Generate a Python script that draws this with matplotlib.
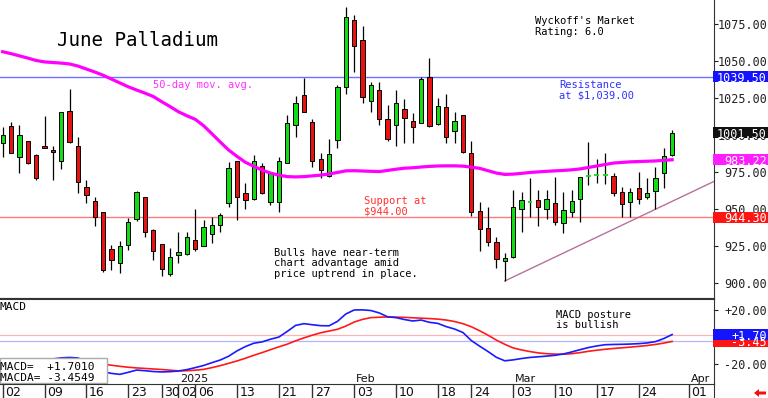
import numpy as np
import pandas as pd
import matplotlib
matplotlib.use('Agg')
import matplotlib.pyplot as plt
from matplotlib.patches import Rectangle, Polygon
from matplotlib.transforms import blended_transform_factory

# ---- data ----
holidays = ['2024-12-25', '2025-01-01', '2025-01-20', '2025-02-17']
dates = pd.bdate_range('2024-12-02', '2025-04-04', freq='C', holidays=holidays)

opens = np.array([994.8, 1006.0, 984.9, 995.9, 986.2, 992.5, 989.8, 982.4, 1016.2, 992.5,
                  964.6, 955.3, 947.7, 922.8, 913.2, 925.5, 943.1, 957.8, 935.9, 926.2,
                  905.9, 919.0, 919.2, 928.9, 925.1, 933.0, 939.1, 953.7, 982.4, 960.5,
                  956.5, 979.0, 954.6, 954.8, 981.2, 1006.7, 1027.0, 1009.0, 983.5, 972.2,
                  996.6, 1032.6, 1077.8, 1064.2, 1023.2, 1030.4, 1011.0, 1006.7, 1017.6, 1009.4,
                  1008.3, 1039.4, 1007.4, 1019.1, 1002.7, 1013.5, 987.6, 948.5, 937.2, 927.4,
                  914.9, 917.2, 949.9, 954.8, 956.0, 949.9, 953.7, 940.2, 948.1, 956.5,
                  972.4, 972.9, 972.9, 972.2, 961.6, 954.4, 963.9, 957.8, 962.3, 974.0,
                  986.4])
highs = np.array([1005.6, 1009.0, 1006.7, 996.2, 986.9, 1012.8, 992.7, 1015.8, 1031.3, 998.8,
                  969.5, 957.8, 948.2, 925.5, 928.4, 943.6, 962.0, 958.2, 936.2, 926.5,
                  923.3, 934.1, 934.1, 950.1, 942.4, 944.7, 947.0, 981.5, 982.6, 967.7,
                  986.4, 980.8, 975.0, 985.3, 1013.5, 1026.5, 1038.7, 1010.6, 988.0, 997.1,
                  1033.8, 1086.4, 1081.2, 1073.7, 1036.0, 1036.0, 1020.3, 1030.4, 1024.1, 1014.6,
                  1039.0, 1051.9, 1025.2, 1027.5, 1015.7, 1013.8, 996.1, 954.8, 951.0, 930.7,
                  920.3, 962.7, 961.6, 970.7, 962.7, 962.7, 971.7, 961.6, 962.7, 971.5,
                  995.0, 983.5, 987.6, 974.0, 965.0, 963.9, 975.1, 970.7, 978.5, 991.0,
                  1003.3])
lows = np.array([984.9, 987.6, 974.0, 980.5, 969.5, 990.9, 969.5, 976.8, 994.7, 960.5,
                 953.7, 938.6, 907.5, 908.6, 906.4, 922.1, 942.0, 931.1, 915.4, 904.6,
                 904.6, 913.2, 918.8, 921.7, 924.8, 926.7, 934.5, 951.0, 942.4, 949.7,
                 956.3, 960.0, 952.6, 947.7, 980.8, 998.8, 1015.5, 978.5, 970.7, 971.3,
                 991.0, 1027.7, 1042.8, 1021.4, 1015.3, 1006.7, 996.1, 992.5, 994.7, 994.7,
                 1007.9, 1005.6, 1006.7, 994.7, 994.7, 988.0, 945.2, 921.7, 925.1, 909.8,
                 901.2, 916.9, 934.1, 944.7, 938.6, 943.1, 939.1, 933.9, 944.7, 941.3,
                 966.1, 967.7, 966.6, 958.9, 944.3, 944.7, 953.3, 956.7, 949.7, 963.9,
                 986.0])
closes = np.array([1000.0, 988.0, 999.8, 981.2, 971.1, 991.2, 988.5, 1015.5, 995.4, 968.2,
                   959.4, 944.7, 908.6, 915.4, 925.1, 941.1, 961.6, 934.1, 921.7, 909.5,
                   917.2, 920.6, 931.1, 922.6, 937.5, 938.9, 945.8, 977.4, 958.2, 956.0,
                   982.2, 960.5, 974.0, 982.4, 1007.9, 1021.8, 1015.7, 982.4, 976.3, 986.9,
                   1032.2, 1080.0, 1060.2, 1025.5, 1033.8, 1010.6, 997.1, 1021.8, 1011.3, 1005.6,
                   1037.6, 1006.0, 1019.8, 998.4, 1009.4, 988.3, 947.7, 936.2, 927.4, 915.9,
                   916.5, 951.4, 956.0, 954.8, 951.0, 956.7, 940.9, 949.2, 955.3, 971.3,
                   972.4, 972.9, 972.9, 960.9, 953.3, 961.6, 956.5, 960.5, 970.7, 985.8,
                   1001.5])
ma50 = np.array([1056.3, 1055.0, 1053.5, 1052.0, 1050.4, 1049.4, 1049.0, 1048.6, 1048.0, 1046.6,
                 1044.6, 1042.6, 1040.4, 1037.8, 1035.2, 1032.6, 1030.4, 1028.3, 1026.0, 1022.5,
                 1019.2, 1015.7, 1013.0, 1010.6, 1006.3, 1000.8, 995.2, 989.8, 985.5, 981.5,
                 978.8, 976.2, 974.2, 972.8, 971.8, 971.6, 971.8, 972.3, 972.8, 973.6,
                 974.6, 975.7, 975.8, 975.6, 975.4, 975.2, 976.0, 976.8, 977.5, 977.8,
                 978.3, 978.7, 979.0, 979.1, 979.1, 978.9, 978.2, 977.4, 975.8, 974.2,
                 973.3, 973.5, 974.0, 974.6, 975.0, 975.4, 975.7, 976.0, 976.4, 977.0,
                 978.0, 979.0, 980.0, 981.0, 981.4, 981.8, 982.0, 982.2, 982.4, 982.8,
                 983.22])
macd = np.array([-18.0, -17.6, -17.8, -17.4, -17.6, -17.0, -16.5, -15.7, -15.4, -15.8,
                 -18.5, -22.5, -26.0, -27.3, -28.0, -26.5, -24.8, -25.3, -25.9, -26.2,
                 -26.0, -25.5, -24.5, -23.0, -21.4, -19.3, -17.3, -14.5, -10.5, -7.3,
                 -4.8, -3.8, -1.8, -0.2, 4.0, 8.5, 9.8, 9.0, 8.3, 8.2,
                 11.5, 17.0, 20.0, 20.1, 19.6, 17.8, 14.9, 14.3, 12.9, 11.8,
                 12.5, 10.8, 10.0, 7.6, 5.8, 3.2, -2.8, -7.0, -11.0, -15.3,
                 -17.9, -17.2, -16.2, -15.4, -14.9, -14.4, -13.8, -12.8, -11.3, -9.6,
                 -8.0, -6.8, -5.9, -5.7, -5.6, -5.4, -5.1, -4.6, -3.6, -1.3,
                 1.70])
macda = np.array([-21.0, -20.6, -20.2, -19.8, -19.4, -19.1, -18.8, -18.4, -18.1, -17.9,
                  -18.2, -19.1, -20.3, -21.2, -22.0, -22.7, -23.2, -23.6, -24.0, -24.4,
                  -24.9, -25.4, -25.3, -24.9, -24.3, -23.0, -21.5, -19.8, -18.0, -16.0,
                  -13.8, -11.8, -9.6, -7.5, -5.5, -3.0, -0.8, 1.2, 3.0, 4.3,
                  5.6, 8.0, 11.0, 13.0, 14.3, 14.6, 14.8, 14.7, 14.5, 14.2,
                  13.9, 13.6, 13.2, 12.5, 11.4, 9.8, 7.5, 4.5, 1.2, -2.5,
                  -5.6, -8.3, -9.8, -11.0, -12.0, -12.6, -12.9, -13.0, -12.6, -11.8,
                  -10.8, -10.0, -9.3, -8.7, -8.2, -7.7, -7.1, -6.5, -5.7, -4.7,
                  -3.45])
macd_text = '+1.7010'
macda_text = '-3.4549'

support = 944.30
resistance = 1039.50
trend_anchors = [60, 78]   # candles whose lows the trendline joins

week_ticks = ['2024-12-02', '2024-12-09', '2024-12-16', '2024-12-23', '2024-12-30',
              '2025-01-02', '2025-01-06', '2025-01-13', '2025-01-21', '2025-01-27',
              '2025-02-03', '2025-02-10', '2025-02-18', '2025-02-24', '2025-03-03',
              '2025-03-10', '2025-03-17', '2025-03-24', '2025-04-01']
month_ticks = {'2025-01-02': '2025', '2025-02-03': 'Feb', '2025-03-03': 'Mar', '2025-04-01': 'Apr'}
price_ticks = [900, 925, 950, 975, 1000, 1025, 1050, 1075]
macd_ticks = [-20, 20]

# ---- styling ----
GREEN = '#14dc14'
RED = '#e81212'
MONO = 'DejaVu Sans Mono'
plt.rcParams['font.family'] = MONO

W, H = 768, 398


def fx(px):
    return px / W


def fy(py):
    return 1 - py / H


fig = plt.figure(figsize=(W / 100, H / 100), dpi=100)
ax = fig.add_axes([0, fy(299), fx(714), 299 / H])
axm = fig.add_axes([0, fy(384), fx(714), 85 / H])
axd = fig.add_axes([0, 0, fx(714), 14 / H])

x = np.arange(len(opens))
XLIM = (-0.32, 85.0)

# candles
up = closes > opens
down = closes < opens
doji = closes == opens
ax.vlines(x, lows, highs, color='black', lw=0.9, zorder=2)
ax.bar(x[up], (closes - opens)[up], bottom=opens[up], width=0.52,
       color=GREEN, edgecolor='black', linewidth=0.7, zorder=3)
ax.bar(x[down], (opens - closes)[down], bottom=closes[down], width=0.52,
       color=RED, edgecolor='black', linewidth=0.7, zorder=3)
ax.hlines(closes[doji], x[doji] - 0.28, x[doji] + 0.28, color=GREEN, lw=1.3, zorder=3)

ax.plot(x, ma50, color='#ff00ff', lw=2.3, zorder=4)
ax.axhline(support, color='#ff7a7a', lw=1, zorder=1)
ax.axhline(resistance, color='#7070ff', lw=1, zorder=1)

t0, t1 = trend_anchors
slope = (lows[t1] - lows[t0]) / (t1 - t0)
tx = np.array([t0, XLIM[1]])
ax.plot(tx, lows[t0] + slope * (tx - t0), color='#b8709a', lw=1, zorder=1.5)

# MACD panel
axm.axhline(macd[-1], color='#ffb4b4', lw=0.9, zorder=1)
axm.axhline(macda[-1], color='#b4b4ff', lw=0.9, zorder=1)
axm.plot(x, macda, color='#ff1a1a', lw=1.2, zorder=3)
axm.plot(x, macd, color='#1a1aff', lw=1.2, zorder=3)
axm.add_patch(Rectangle((0, 0.015), 0.15, 0.294, transform=axm.transAxes,
                        facecolor='white', edgecolor='#aaaaaa', lw=1, zorder=8))


def right_axis(a, ticks, labels):
    a.yaxis.tick_right()
    a.set_yticks(ticks)
    a.set_yticklabels(labels)
    a.tick_params(axis='y', direction='out', length=3, width=0.8, pad=35.2,
                  labelsize=8.5, colors='#222222')
    plt.setp(a.get_yticklabels(), ha='right')


def tag(a, val, text, color, h):
    tr = blended_transform_factory(a.transAxes, a.transData)
    a.add_patch(Rectangle((0.9986, val - h / 2), 0.09, h, transform=tr, facecolor=color,
                          edgecolor='none', clip_on=False, zorder=10))
    a.text(767 / 714, val, text, transform=tr, ha='right', va='center_baseline',
           color='white', fontsize=8.5, clip_on=False, zorder=11)


right_axis(ax, price_ticks, [f'{v:.2f}' for v in price_ticks])
right_axis(axm, macd_ticks, [f'{v:+.2f}' for v in macd_ticks])

tag(ax, resistance, f'{resistance:.2f}', '#1414ff', 7.44)
tag(ax, closes[-1], f'{closes[-1]:.2f}', '#111111', 7.6)
tag(ax, ma50[-1], f'{ma50[-1]:.2f}', '#ff1eff', 7.6)
tag(ax, support, f'{support:.2f}', '#ff1414', 7.44)
tag(axm, macda[-1], f'{macda[-1]:+.2f}', '#ff1414', 7.9)
tag(axm, macd[-1], f'{macd[-1]:+.2f}', '#1414ff', 7.9)

# spines / limits
for a in (ax, axm, axd):
    a.set_xlim(*XLIM)
    a.set_xticks([])
    a.spines['left'].set_visible(False)
    a.spines['right'].set_color('#333333')
ax.spines['top'].set_visible(False)
ax.spines['bottom'].set_color('#333333')
ax.spines['bottom'].set_linewidth(1.5)
axm.spines['bottom'].set_visible(False)
axm.spines['top'].set_color('#333333')
axm.spines['top'].set_linewidth(1.5)
axd.spines['bottom'].set_visible(False)
axd.spines['top'].set_color('#333333')
axd.set_yticks([])
ax.set_ylim(889.0, 1091.3)
axm.set_ylim(-35.2, 28.2)
axd.set_ylim(0, 1)

# date row
row_tr = blended_transform_factory(axd.transData, axd.transAxes)
for d in week_ticks:
    i = dates.get_loc(pd.Timestamp(d))
    axd.axvline(i, color='#333333', lw=1)
    axd.text(i + 0.3, 0.14, pd.Timestamp(d).strftime('%d'), transform=row_tr,
             family='DejaVu Sans', fontsize=9, va='baseline', color='#111111')
month_tr = blended_transform_factory(axm.transData, axm.transAxes)
for d, lab in month_ticks.items():
    i = dates.get_loc(pd.Timestamp(d))
    axm.text(i + 0.24, 0.0235, lab, transform=month_tr, family='DejaVu Sans',
             fontsize=8, va='baseline', color='#111111', zorder=9)


# annotations
def note(px, baselines, lines, color='black', size=7.5):
    for by, s in zip(baselines, lines):
        fig.text(fx(px), fy(by), s, color=color, fontsize=size, va='baseline')


note(57, [46], ['June Palladium'], size=13.8)
note(535, [24, 35], ["Wyckoff's Market", 'Rating: 6.0'])
note(153, [88], ['50-day mov. avg.'], color='#ff30ff')
note(559, [88.3, 98.7], ['Resistance', 'at $1,039.00'], color='#3030ff')
note(364, [204, 214], ['Support at', '$944.00'], color='#ff3030')
note(274, [256, 266.5, 277], ['Bulls have near-term', 'chart advantage amid',
                              'price uptrend in place.'])
note(556, [317.7, 328.3], ['MACD posture', 'is bullish'])
note(0, [310], ['MACD'], size=8)
note(0, [370, 381], ['MACD=  ' + macd_text, 'MACDA= ' + macda_text], size=8)

arrow = [(754, 393), (759, 389), (759, 391.5), (766, 391.5), (766, 394.5), (759, 394.5), (759, 397)]
fig.patches.append(Polygon([(fx(a), fy(b)) for a, b in arrow], closed=True,
                           transform=fig.transFigure, facecolor='#ee1111', edgecolor='none'))

fig.savefig('out.png', dpi=100)
